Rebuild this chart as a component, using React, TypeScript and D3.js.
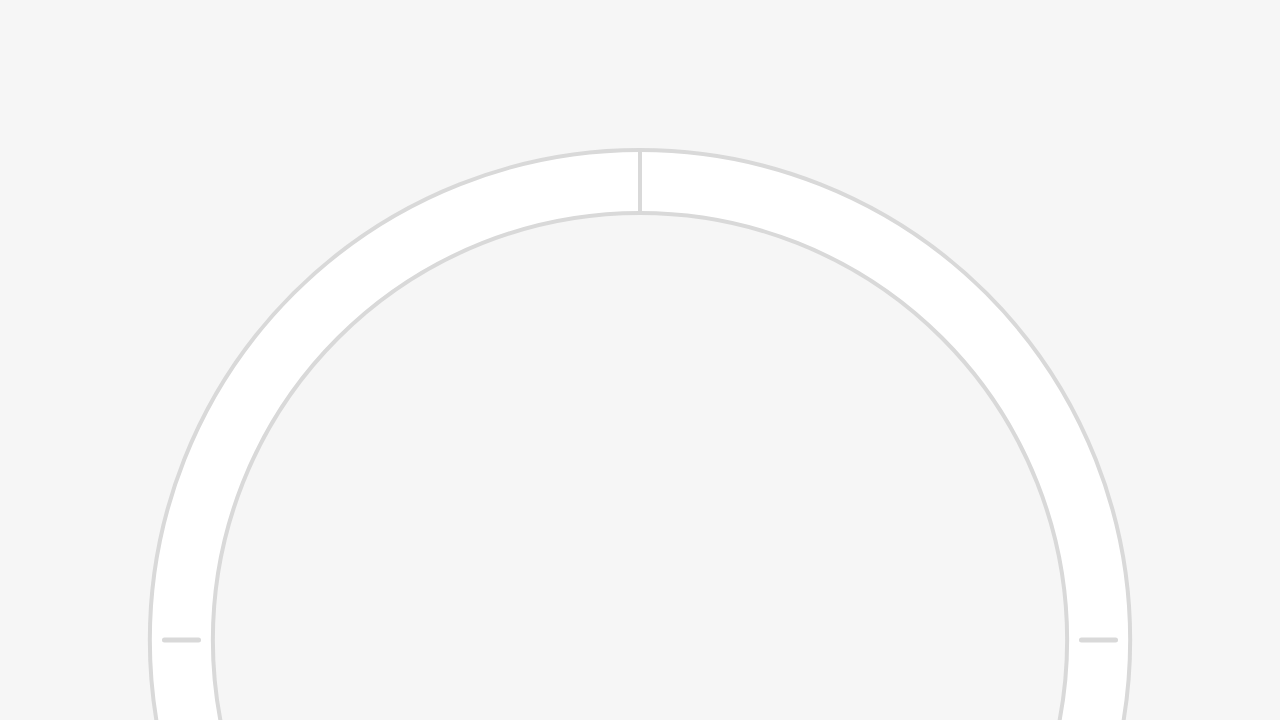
import { useEffect, useRef } from "react";
import * as d3 from "d3";

// Anel com um único segmento e marcas de quarto
const segmentos = [100];
const marcas = [25, 50, 75];
const escalaMax = 100;

const LARGURA = 1280;
const ALTURA = 720;

const App = () => {
  const svgRef = useRef<SVGSVGElement>(null);

  useEffect(() => {
    if (!svgRef.current) return;
    const svg = d3.select(svgRef.current);
    svg.selectAll("*").remove();

    const cx = 640;
    const cy = 640;
    const rExt = 490;
    const rInt = 427;

    const angulo = d3.scaleLinear().domain([0, escalaMax]).range([0, 2 * Math.PI]);
    const raio = d3.scaleLinear().domain([0, 1]).range([rInt, rExt]);

    svg.append("rect")
      .attr("width", LARGURA)
      .attr("height", ALTURA)
      .attr("fill", "#f6f6f6");

    const g = svg.append("g").attr("transform", `translate(${cx},${cy})`);

    const pie = d3.pie<number>().sort(null).value((d) => d);
    const arco = d3.arc<d3.PieArcDatum<number>>()
      .innerRadius(raio(0))
      .outerRadius(raio(1));

    g.selectAll("path.seg")
      .data(pie(segmentos))
      .enter()
      .append("path")
      .attr("class", "seg")
      .attr("d", arco)
      .attr("fill", "#ffffff")
      .attr("stroke", "#d9d9d9")
      .attr("stroke-width", 4)
      .attr("stroke-linejoin", "round");

    // Divisor no início do anel (topo)
    const a0 = angulo(0);
    g.append("line")
      .attr("x1", Math.sin(a0) * raio(0))
      .attr("y1", -Math.cos(a0) * raio(0))
      .attr("x2", Math.sin(a0) * raio(1))
      .attr("y2", -Math.cos(a0) * raio(1))
      .attr("stroke", "#d9d9d9")
      .attr("stroke-width", 4);

    // Marcas curtas dentro da faixa
    g.selectAll("line.marca")
      .data(marcas)
      .enter()
      .append("line")
      .attr("class", "marca")
      .attr("x1", (d) => Math.sin(angulo(d)) * raio(0.23))
      .attr("y1", (d) => -Math.cos(angulo(d)) * raio(0.23))
      .attr("x2", (d) => Math.sin(angulo(d)) * raio(0.77))
      .attr("y2", (d) => -Math.cos(angulo(d)) * raio(0.77))
      .attr("stroke", "#d9d9d9")
      .attr("stroke-width", 5)
      .attr("stroke-linecap", "round");
  }, []);

  return (
    <div style={{ position: "absolute", left: 0, top: 0, width: LARGURA, height: ALTURA, overflow: "hidden" }}>
      <svg ref={svgRef} width={LARGURA} height={ALTURA} style={{ display: "block" }} />
    </div>
  );
};

export default App;
